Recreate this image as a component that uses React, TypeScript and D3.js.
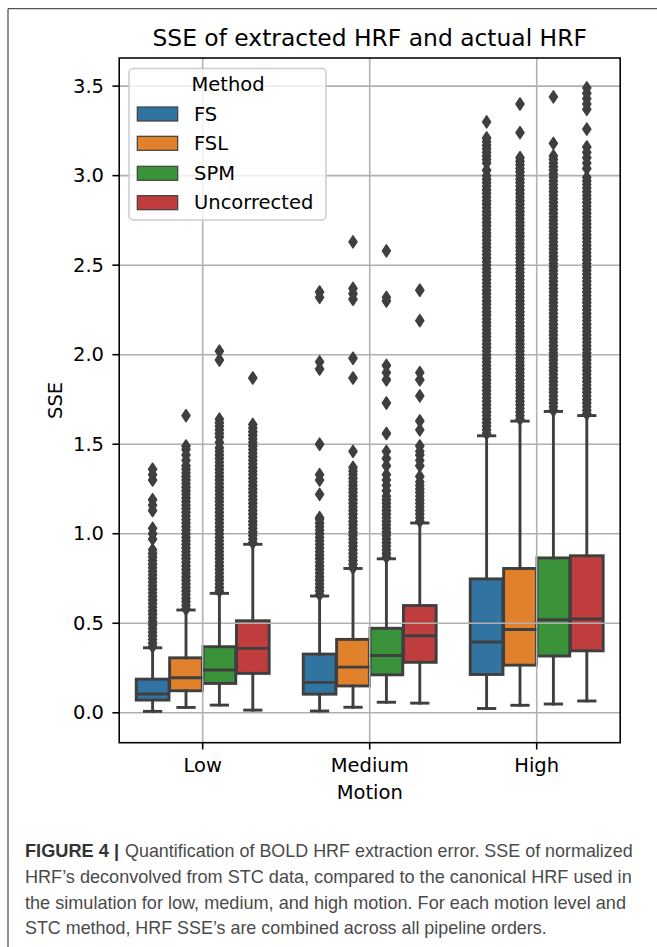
import React from "react";
import * as d3 from "d3";

const WIDTH = 657;
const HEIGHT = 947;
const MARGIN = { left: 119.2, right: 620.2, top: 58, bottom: 742.7 };

const motions = ["Low", "Medium", "High"];
const methods = ["FS", "FSL", "SPM", "Uncorrected"];
const methodColors = ["#3274a1", "#e1812c", "#3a923a", "#c03d3e"];
const yTicks = [0, 0.5, 1, 1.5, 2, 2.5, 3, 3.5];

// [whisker low, Q1, median, Q3, whisker high] for Low, Medium, High
const fsBoxes = [
  [0.008, 0.071, 0.105, 0.188, 0.363],
  [0.01, 0.104, 0.17, 0.328, 0.652],
  [0.024, 0.214, 0.395, 0.748, 1.547],
];
const fslBoxes = [
  [0.03, 0.123, 0.196, 0.307, 0.574],
  [0.031, 0.15, 0.255, 0.41, 0.806],
  [0.042, 0.266, 0.465, 0.806, 1.629],
];
const spmBoxes = [
  [0.043, 0.164, 0.239, 0.369, 0.667],
  [0.059, 0.212, 0.32, 0.472, 0.86],
  [0.049, 0.317, 0.52, 0.865, 1.683],
];
const uncBoxes = [
  [0.015, 0.22, 0.36, 0.514, 0.941],
  [0.054, 0.282, 0.43, 0.599, 1.06],
  [0.066, 0.346, 0.524, 0.877, 1.66],
];

const fsOutliers = [
  [0.37, 0.39, 0.41, 0.43, 0.45, 0.47, 0.49, 0.51, 0.53, 0.55, 0.57, 0.59, 0.61, 0.63, 0.65, 0.67, 0.69, 0.71, 0.73, 0.75, 0.77, 0.79, 0.81, 0.83, 0.85, 0.87, 0.89, 0.91,
    0.97, 1.0, 1.03, 1.13, 1.16, 1.19, 1.3, 1.33, 1.36],
  [0.66, 0.68, 0.7, 0.72, 0.74, 0.76, 0.78, 0.8, 0.82, 0.84, 0.86, 0.88, 0.9, 0.92, 0.94, 0.96, 0.98, 1.0, 1.02, 1.04, 1.06, 1.08, 1.09,
    1.22, 1.3, 1.33, 1.5, 1.92, 1.96, 2.32, 2.35],
  [1.56, 1.58, 1.6, 1.62, 1.64, 1.66, 1.68, 1.7, 1.72, 1.74, 1.76, 1.78, 1.8, 1.82, 1.84, 1.86, 1.88, 1.9, 1.92, 1.94, 1.96, 1.98,
    2.0, 2.02, 2.04, 2.06, 2.08, 2.1, 2.12, 2.14, 2.16, 2.18, 2.2, 2.22, 2.24, 2.26, 2.28, 2.3, 2.32, 2.34, 2.36, 2.38, 2.4, 2.42,
    2.44, 2.46, 2.48, 2.5, 2.52, 2.54, 2.56, 2.58, 2.6, 2.62, 2.64, 2.66, 2.68, 2.7, 2.72, 2.74, 2.76, 2.78, 2.8, 2.82, 2.84, 2.86,
    2.88, 2.9, 2.92, 2.94, 2.96, 2.98, 3.0, 3.03, 3.07, 3.09, 3.11, 3.13, 3.15, 3.17, 3.19, 3.21, 3.3],
];
const fslOutliers = [
  [0.58, 0.6, 0.62, 0.64, 0.66, 0.68, 0.7, 0.72, 0.74, 0.76, 0.78, 0.8, 0.82, 0.84, 0.86, 0.88, 0.9, 0.92, 0.94, 0.96, 0.98, 1.0,
    1.02, 1.04, 1.06, 1.08, 1.1, 1.12, 1.14, 1.16, 1.18, 1.2, 1.22, 1.24, 1.26, 1.28, 1.3, 1.32, 1.34, 1.36, 1.38, 1.41, 1.44, 1.47,
    1.49, 1.66],
  [0.81, 0.83, 0.85, 0.87, 0.89, 0.91, 0.93, 0.95, 0.97, 0.99, 1.01, 1.03, 1.05, 1.07, 1.09, 1.11, 1.13, 1.15, 1.17, 1.19, 1.21,
    1.23, 1.25, 1.27, 1.29, 1.31, 1.33, 1.35, 1.37, 1.46, 1.87, 1.98, 2.31, 2.34, 2.37, 2.63],
  [1.64, 1.66, 1.68, 1.7, 1.72, 1.74, 1.76, 1.78, 1.8, 1.82, 1.84, 1.86, 1.88, 1.9, 1.92, 1.94, 1.96, 1.98, 2.0, 2.02, 2.04, 2.06,
    2.08, 2.1, 2.12, 2.14, 2.16, 2.18, 2.2, 2.22, 2.24, 2.26, 2.28, 2.3, 2.32, 2.34, 2.36, 2.38, 2.4, 2.42, 2.44, 2.46, 2.48, 2.5,
    2.52, 2.54, 2.56, 2.58, 2.6, 2.62, 2.64, 2.66, 2.68, 2.7, 2.72, 2.74, 2.76, 2.78, 2.8, 2.82, 2.84, 2.86, 2.88, 2.9, 2.92, 2.94,
    2.96, 2.98, 3.0, 3.02, 3.04, 3.06, 3.08, 3.1, 3.24, 3.4],
];
const spmOutliers = [
  [0.68, 0.7, 0.72, 0.74, 0.76, 0.78, 0.8, 0.82, 0.84, 0.86, 0.88, 0.9, 0.92, 0.94, 0.96, 0.98, 1.0, 1.02, 1.04, 1.06, 1.08, 1.1,
    1.12, 1.14, 1.16, 1.18, 1.2, 1.22, 1.24, 1.26, 1.28, 1.3, 1.32, 1.34, 1.36, 1.38, 1.4, 1.42, 1.44, 1.46, 1.48, 1.51, 1.54, 1.56,
    1.58, 1.6, 1.62, 1.64, 1.97, 2.02],
  [0.87, 0.89, 0.91, 0.93, 0.95, 0.97, 0.99, 1.01, 1.03, 1.05, 1.07, 1.09, 1.11, 1.13, 1.15, 1.17, 1.19, 1.21, 1.24, 1.27, 1.3,
    1.33, 1.38, 1.42, 1.46, 1.56, 1.73, 1.86, 1.9, 1.94, 2.3, 2.32, 2.58],
  [1.69, 1.71, 1.73, 1.75, 1.77, 1.79, 1.81, 1.83, 1.85, 1.87, 1.89, 1.91, 1.93, 1.95, 1.97, 1.99, 2.01, 2.03, 2.05, 2.07, 2.09,
    2.11, 2.13, 2.15, 2.17, 2.19, 2.21, 2.23, 2.25, 2.27, 2.29, 2.31, 2.33, 2.35, 2.37, 2.39, 2.41, 2.43, 2.45, 2.47, 2.49, 2.51,
    2.53, 2.55, 2.57, 2.59, 2.61, 2.63, 2.65, 2.67, 2.69, 2.71, 2.73, 2.75, 2.77, 2.79, 2.81, 2.83, 2.85, 2.87, 2.89, 2.91, 2.93,
    2.95, 2.97, 2.99, 3.01, 3.03, 3.05, 3.07, 3.09, 3.11, 3.18, 3.44],
];
const uncOutliers = [
  [0.95, 0.97, 0.99, 1.01, 1.03, 1.05, 1.07, 1.09, 1.11, 1.13, 1.15, 1.17, 1.19, 1.21, 1.23, 1.25, 1.27, 1.29, 1.31, 1.33, 1.35,
    1.37, 1.39, 1.41, 1.43, 1.45, 1.47, 1.49, 1.51, 1.53, 1.55, 1.57, 1.59, 1.61, 1.87],
  [1.07, 1.09, 1.11, 1.13, 1.15, 1.17, 1.19, 1.21, 1.23, 1.25, 1.27, 1.29, 1.32, 1.38, 1.41, 1.44, 1.46, 1.49, 1.58, 1.63, 1.77,
    1.86, 1.9, 2.19, 2.36],
  [1.67, 1.69, 1.71, 1.73, 1.75, 1.77, 1.79, 1.81, 1.83, 1.85, 1.87, 1.89, 1.91, 1.93, 1.95, 1.97, 1.99, 2.01, 2.03, 2.05, 2.07,
    2.09, 2.11, 2.13, 2.15, 2.17, 2.19, 2.21, 2.23, 2.25, 2.27, 2.29, 2.31, 2.33, 2.35, 2.37, 2.39, 2.41, 2.43, 2.45, 2.47, 2.49,
    2.51, 2.53, 2.55, 2.57, 2.59, 2.61, 2.63, 2.65, 2.67, 2.69, 2.71, 2.73, 2.75, 2.77, 2.79, 2.81, 2.83, 2.85, 2.87, 2.89, 2.91,
    2.93, 2.95, 2.97, 2.99, 3.04, 3.07, 3.1, 3.13, 3.16, 3.26, 3.37, 3.4, 3.43, 3.46, 3.49],
];

const captionLines = [
  "HRF\u2019s deconvolved from STC data, compared to the canonical HRF used in",
  "the simulation for low, medium, and high motion. For each motion level and",
  "STC method, HRF SSE\u2019s are combined across all pipeline orders.",
];
const captionWidths = [606.7, 601, 521.7];

const allBoxes = [fsBoxes, fslBoxes, spmBoxes, uncBoxes];
const allOutliers = [fsOutliers, fslOutliers, spmOutliers, uncOutliers];

const LINE = "#3f3f3f";
const LW = 2.9;
const FONT = "'DejaVu Sans', Verdana, sans-serif";
const CAPTION_FONT = "'Liberation Sans Narrow', 'Arial Narrow', 'Liberation Sans', Arial, sans-serif";

export default function App() {
  const xScale = d3.scaleBand().domain(motions).range([MARGIN.left, MARGIN.right]).padding(0);
  const bw = xScale.bandwidth();
  const hueScale = d3.scaleBand().domain(methods).range([0.1 * bw, 0.9 * bw]).padding(0);
  const boxW = hueScale.bandwidth() * 0.98;
  const yScale = d3.scaleLinear().domain([-0.167, 3.657]).range([MARGIN.bottom, MARGIN.top]);

  const diamond = "M0,-6L4,0L0,6L-4,0Z";

  const boxRects: React.ReactNode[] = [];
  const boxLines: React.ReactNode[] = [];
  methods.forEach((m, mi) => {
    motions.forEach((mo, gi) => {
      const [lo, q1, med, q3, hi] = allBoxes[mi][gi];
      const cx = (xScale(mo) as number) + (hueScale(m) as number) + hueScale.bandwidth() / 2;
      const x0 = cx - boxW / 2;
      boxRects.push(
        <rect
          key={`b-${mi}-${gi}`}
          x={x0}
          y={yScale(q3)}
          width={boxW}
          height={yScale(q1) - yScale(q3)}
          fill={methodColors[mi]}
          stroke={LINE}
          strokeWidth={LW}
        />
      );
      const capW = boxW * 0.5;
      boxLines.push(
        <g key={`l-${mi}-${gi}`} stroke={LINE} strokeWidth={LW} strokeLinecap="square">
          <line x1={cx} x2={cx} y1={yScale(q3)} y2={yScale(hi)} />
          <line x1={cx} x2={cx} y1={yScale(q1)} y2={yScale(lo)} />
          <line x1={cx - capW / 2} x2={cx + capW / 2} y1={yScale(hi)} y2={yScale(hi)} />
          <line x1={cx - capW / 2} x2={cx + capW / 2} y1={yScale(lo)} y2={yScale(lo)} />
          <line x1={x0} x2={x0 + boxW} y1={yScale(med)} y2={yScale(med)} strokeLinecap="butt" />
        </g>
      );
      allOutliers[mi][gi].forEach((v, k) => {
        boxLines.push(
          <path
            key={`o-${mi}-${gi}-${k}`}
            d={diamond}
            transform={`translate(${cx},${yScale(v)})`}
            fill={LINE}
            stroke={LINE}
            strokeWidth={1.6}
            strokeLinejoin="round"
          />
        );
      });
    });
  });

  const legendX = 129;
  const legendY = 68.5;
  const legendRows = [114, 143.3, 173.3, 202.7];

  return (
    <svg
      width={WIDTH}
      height={HEIGHT}
      style={{ position: "absolute", left: 0, top: 0, background: "#fff" }}
    >
      <rect x={0} y={0} width={WIDTH} height={HEIGHT} fill="#fff" />
      {/* figure frame */}
      <line x1={8} x2={WIDTH} y1={8.7} y2={8.7} stroke="#555" strokeWidth={1.3} />
      <line x1={8} x2={8} y1={8.7} y2={HEIGHT} stroke="#555" strokeWidth={1.3} />

      <text x={(MARGIN.left + MARGIN.right) / 2} y={45.7} textAnchor="middle" fontFamily={FONT} fontSize={23.4} fill="#000">
        SSE of extracted HRF and actual HRF
      </text>

      {boxRects}

      {/* grid */}
      <g stroke="#b0b0b0" strokeWidth={1.56}>
        {yTicks.map((t) => (
          <line key={`gy${t}`} x1={MARGIN.left} x2={MARGIN.right} y1={yScale(t)} y2={yScale(t)} />
        ))}
        {motions.map((mo) => {
          const cx = (xScale(mo) as number) + bw / 2;
          return <line key={`gx${mo}`} x1={cx} x2={cx} y1={MARGIN.top} y2={MARGIN.bottom} />;
        })}
      </g>

      {boxLines}

      {/* frame */}
      <rect
        x={MARGIN.left}
        y={MARGIN.top}
        width={MARGIN.right - MARGIN.left}
        height={MARGIN.bottom - MARGIN.top}
        fill="none"
        stroke="#000"
        strokeWidth={1.56}
      />

      {/* y axis */}
      {yTicks.map((t) => (
        <g key={`ty${t}`}>
          <line x1={MARGIN.left - 6.8} x2={MARGIN.left} y1={yScale(t)} y2={yScale(t)} stroke="#000" strokeWidth={1.56} />
          <text x={104} y={yScale(t)} textAnchor="end" dominantBaseline="central" fontFamily={FONT} fontSize={19.5} fill="#000">
            {t.toFixed(1)}
          </text>
        </g>
      ))}
      <text
        transform={`translate(61.5,${(MARGIN.top + MARGIN.bottom) / 2}) rotate(-90)`}
        textAnchor="middle"
        fontFamily={FONT}
        fontSize={19.5}
        fill="#000"
      >
        SSE
      </text>

      {/* x axis */}
      {motions.map((mo) => {
        const cx = (xScale(mo) as number) + bw / 2;
        return (
          <g key={`tx${mo}`}>
            <line x1={cx} x2={cx} y1={MARGIN.bottom} y2={MARGIN.bottom + 6.8} stroke="#000" strokeWidth={1.56} />
            <text x={cx} y={771.7} textAnchor="middle" fontFamily={FONT} fontSize={19.5} fill="#000">
              {mo}
            </text>
          </g>
        );
      })}
      <text x={(MARGIN.left + MARGIN.right) / 2} y={799.3} textAnchor="middle" fontFamily={FONT} fontSize={19.5} fill="#000">
        Motion
      </text>

      {/* legend */}
      <rect
        x={legendX}
        y={legendY}
        width={197}
        height={151.5}
        rx={4}
        fill="#fff"
        fillOpacity={0.8}
        stroke="#cccccc"
        strokeWidth={1.5}
      />
      <text x={228} y={84} textAnchor="middle" dominantBaseline="central" fontFamily={FONT} fontSize={19.5} fill="#000">
        Method
      </text>
      {methods.map((m, i) => (
        <g key={`lg${m}`}>
          <rect x={137.3} y={legendRows[i] - 7} width={40.4} height={14} fill={methodColors[i]} stroke={LINE} strokeWidth={1.2} />
          <text x={194} y={legendRows[i]} dominantBaseline="central" fontFamily={FONT} fontSize={19.5} fill="#000">
            {m}
          </text>
        </g>
      ))}

      {/* caption */}
      <text x={25} y={857} fontFamily={CAPTION_FONT} fontSize={18.5} fontWeight="bold" fill="#333" textLength={94} lengthAdjust="spacingAndGlyphs">
        FIGURE 4 |
      </text>
      <text x={125} y={857} fontFamily={CAPTION_FONT} fontSize={18.5} fill="#4a4a4a" textLength={507.7} lengthAdjust="spacingAndGlyphs">
        Quantification of BOLD HRF extraction error. SSE of normalized
      </text>
      {captionLines.map((line, i) => (
        <text
          key={`cap${i}`}
          x={25}
          y={883 + i * 25.7}
          fontFamily={CAPTION_FONT}
          fontSize={18.5}
          fill="#4a4a4a"
          textLength={captionWidths[i]}
          lengthAdjust="spacingAndGlyphs"
        >
          {line}
        </text>
      ))}
    </svg>
  );
}
